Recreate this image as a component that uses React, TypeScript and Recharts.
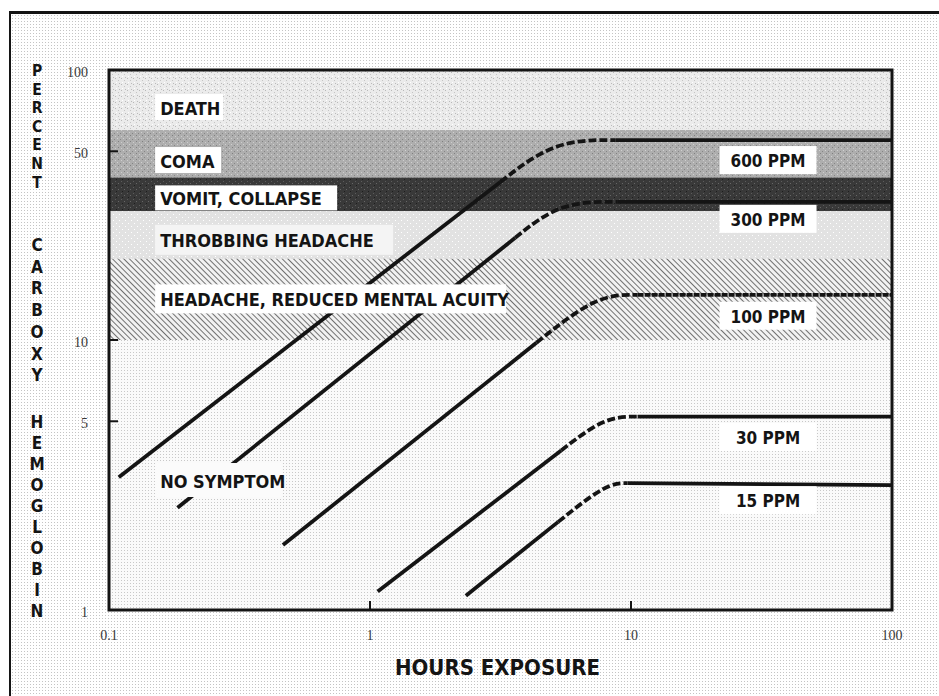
import React from 'react';
import { LineChart, Line, XAxis, YAxis, ReferenceArea, ReferenceDot, Label } from 'recharts';

// hours of exposure vs. percent carboxyhemoglobin
// each line: start of the rise, start of the dashed knee, knee corner, start of plateau, end of plateau
const line600 = [[0.109, 3.1], [3.16, 38.5], [5.09, 55], [8.7, 55], [100, 55]];
const line300 = [[0.183, 2.39], [3.6, 23.9], [5.36, 32.5], [8.9, 32.5], [100, 32.5]];
const line100 = [[0.464, 1.74], [4.34, 9.76], [7.38, 14.7], [10.6, 14.7], [100, 14.7]];
const line30 = [[1.07, 1.17], [5.4, 3.9], [7.95, 5.2], [10.6, 5.2], [100, 5.2]];
const line15 = [[2.33, 1.13], [5.26, 2.12], [8.07, 2.95], [9.7, 2.95], [100, 2.9]];
const ppmNames = ['600 PPM', '300 PPM', '100 PPM', '30 PPM', '15 PPM'];
const ppmLabelAt = [[33.5, 46.4], [33.5, 28.1], [33.5, 12.3], [33.5, 4.37], [33.5, 2.55]];

const bandNames = ['DEATH', 'COMA', 'VOMIT, COLLAPSE', 'THROBBING HEADACHE', 'HEADACHE, REDUCED MENTAL ACUITY', 'NO SYMPTOM'];
const bandEdges = [100, 60, 40, 30, 20, 10, 1];
const bandLabelAt = [72.9, 46.4, 33.6, 23.5, 14.2, 3.03];

const xTicks = [0.1, 1, 10, 100];
const yTicks = [1, 5, 10, 50, 100];
const yTitle = ['PERCENT', 'CARBOXY', 'HEMOGLOBIN'];
const xTitle = 'HOURS EXPOSURE';

const COND = "'Liberation Sans Narrow', 'Arial Narrow', 'DejaVu Sans Condensed', sans-serif";
const SERIF = "'Liberation Serif', 'DejaVu Serif', serif";
const INK = '#141414';

const bandFill = ['url(#death)', 'url(#coma)', 'url(#vomit)', 'url(#throb)', 'url(#hatch)', 'url(#calm)'];
const bandBox = [
  { w: 68, h: 26, fill: '#fff' },
  { w: 66, h: 26, fill: '#fff' },
  { w: 182, h: 25, fill: '#fff' },
  { w: 238, h: 30, fill: '#f4f4f4' },
  { w: 351, h: 29, fill: '#fff' },
  { w: 127, h: 34, fill: '#fbfbfb' },
];
const LABEL_X = 0.157; // hours, just inside the left edge

const toPts = (arr: number[][]) => arr.map(([t, c]) => ({ t, c }));
const lines = [line600, line300, line100, line30, line15];

const boxLabel = (text: string, w: number, h: number, fill: string, anchor: 'start' | 'middle', size: number) =>
  (props: any) => {
    const vb = props.viewBox || {};
    const cx = vb.x + (vb.width || 0) / 2;
    const cy = vb.y + (vb.height || 0) / 2;
    const left = anchor === 'start' ? cx - 5 : cx - w / 2;
    return (
      <g>
        <rect x={left} y={cy - h / 2} width={w} height={h} fill={fill} />
        <text x={cx} y={cy + 1} textAnchor={anchor} dominantBaseline="central"
          fontFamily={COND} fontWeight="bold" fontSize={size} fill={INK}>{text}</text>
      </g>
    );
  };

const YTick = ({ x, y, payload }: any) => (
  <g>
    <line x1={x} x2={x + 9} y1={y} y2={y} stroke={INK} strokeWidth={2} />
    <text x={x - 21} y={y + 2} textAnchor="end" dominantBaseline="central" stroke="none"
      fontFamily={SERIF} fontSize={14} fill="#3a3a3a">{payload.value}</text>
  </g>
);

const XTick = ({ x, y, payload }: any) => (
  <g>
    <line x1={x} x2={x} y1={y} y2={y - 9} stroke={INK} strokeWidth={2} />
    <text x={x} y={y + 25} textAnchor="middle" dominantBaseline="central" stroke="none"
      fontFamily={SERIF} fontSize={14} fill="#3a3a3a">{payload.value}</text>
  </g>
);

// stacked letters down the left side, one word at a time
const YTitle = ({ viewBox }: any) => {
  const top = viewBox.y;
  const starts = [top + 1, top + 175, top + 352];
  const steps = [18.6, 21.7, 21.0];
  const sizes = [15.5, 17, 17];
  return (
    <g>
      {yTitle.map((word, w) =>
        word.split('').map((ch, i) => (
          <text key={`${w}-${i}`} x={37} y={starts[w] + i * steps[w]} textAnchor="middle"
            dominantBaseline="central" fontFamily={COND} fontWeight="bold" fontSize={sizes[w]} fill={INK}>{ch}</text>
        )))}
    </g>
  );
};

const XTitle = ({ viewBox }: any) => (
  <text x={viewBox.x + viewBox.width / 2 - 3} y={viewBox.y + 57} textAnchor="middle" dominantBaseline="central"
    fontFamily={COND} fontWeight="bold" fontSize={22} fill={INK}>{xTitle}</text>
);

export default function App() {
  return (
    <div style={{ position: 'absolute', left: 0, top: 0, width: 939, height: 696, background: '#fff', overflow: 'hidden' }}>
      <div style={{
        position: 'absolute', left: 9, top: 11, right: 0, bottom: 0,
        borderTop: `3px solid ${INK}`, borderLeft: `2px solid ${INK}`,
        backgroundImage: 'radial-gradient(circle, #c4c4c4 0.7px, transparent 0.9px)',
        backgroundSize: '3px 3px',
      }} />
      <div style={{ position: 'absolute', left: 0, top: 0 }}>
        <LineChart width={939} height={696} margin={{ top: 70, left: 108, right: 47, bottom: 85 }}>
          <defs>
            <pattern id="death" width="6" height="6" patternUnits="userSpaceOnUse">
              <rect width="6" height="6" fill="#ebebeb" />
              <rect x="1" y="0" width="1" height="1" fill="#b8b8b8" />
              <rect x="4" y="2" width="1" height="1" fill="#c4c4c4" />
              <rect x="2" y="4" width="1" height="1" fill="#fff" />
              <rect x="5" y="5" width="1" height="1" fill="#bbb" />
            </pattern>
            <pattern id="coma" width="6" height="6" patternUnits="userSpaceOnUse">
              <rect width="6" height="6" fill="#aeaeae" />
              <rect x="0" y="1" width="1" height="1" fill="#858585" />
              <rect x="3" y="0" width="1" height="1" fill="#d0d0d0" />
              <rect x="4" y="3" width="1" height="1" fill="#808080" />
              <rect x="1" y="4" width="1" height="1" fill="#cdcdcd" />
            </pattern>
            <pattern id="vomit" width="6" height="6" patternUnits="userSpaceOnUse">
              <rect width="6" height="6" fill="#393939" />
              <rect x="1" y="1" width="1" height="1" fill="#5c5c5c" />
              <rect x="4" y="3" width="1" height="1" fill="#666" />
              <rect x="2" y="5" width="1" height="1" fill="#1e1e1e" />
            </pattern>
            <pattern id="throb" width="6" height="6" patternUnits="userSpaceOnUse">
              <rect width="6" height="6" fill="#e2e2e2" />
              <rect x="2" y="1" width="1" height="1" fill="#fff" />
              <rect x="5" y="4" width="1" height="1" fill="#fff" />
            </pattern>
            <pattern id="hatch" width="4" height="4" patternUnits="userSpaceOnUse" patternTransform="rotate(-45)">
              <rect width="4" height="4" fill="#f2f2f2" />
              <line x1="0" y1="0" x2="0" y2="4" stroke="#5a5a5a" strokeWidth="1.7" />
            </pattern>
            <pattern id="calm" width="3" height="3" patternUnits="userSpaceOnUse">
              <rect width="3" height="3" fill="#fafafa" />
              <rect x="1" y="1" width="1" height="1" fill="#c8c8c8" />
            </pattern>
          </defs>

          {bandNames.map((name, i) => (
            <ReferenceArea key={name} x1={0.1} x2={100} y1={bandEdges[i + 1]} y2={bandEdges[i]}
              fill={bandFill[i]} fillOpacity={1} stroke="none" />
          ))}

          {lines.map((pts, i) => (
            <Line key={`rise-${i}`} data={toPts(pts.slice(0, 2))} dataKey="c" type="linear"
              stroke={INK} strokeWidth={3.8} dot={false} activeDot={false} isAnimationActive={false} />
          ))}
          {lines.map((pts, i) => (
            <Line key={`knee-${i}`} data={toPts(pts.slice(1, 4))} dataKey="c" type="basis"
              stroke={INK} strokeWidth={3.8} strokeDasharray="8 3" dot={false} activeDot={false} isAnimationActive={false} />
          ))}
          {lines.map((pts, i) => (
            <Line key={`flat-${i}`} data={toPts(pts.slice(3, 5))} dataKey="c" type="linear"
              stroke={INK} strokeWidth={3.8} strokeDasharray={i === 2 ? '6 1' : undefined}
              dot={false} activeDot={false} isAnimationActive={false} />
          ))}

          <ReferenceArea x1={0.1} x2={100} y1={1} y2={100} fill="none" stroke={INK} strokeWidth={3} />

          {bandNames.map((name, i) => (
            <ReferenceDot key={`lbl-${name}`} x={LABEL_X} y={bandLabelAt[i]}
              r={0} fill="none" stroke="none"
              label={boxLabel(name, bandBox[i].w, bandBox[i].h, bandBox[i].fill, 'start', 18)} />
          ))}
          {ppmNames.map((name, i) => (
            <ReferenceDot key={`ppm-${name}`} x={ppmLabelAt[i][0]} y={ppmLabelAt[i][1]}
              r={0} fill="none" stroke="none"
              label={boxLabel(name, 97, 28, '#fff', 'middle', 17)} />
          ))}

          <XAxis type="number" dataKey="t" scale="log" domain={[0.1, 100]} allowDataOverflow
            ticks={xTicks} height={1} tickSize={0} tickMargin={0} axisLine={false} tick={<XTick />}>
            <Label content={XTitle} />
          </XAxis>
          <YAxis type="number" dataKey="c" scale="log" domain={[1, 100]} allowDataOverflow
            ticks={yTicks} width={1} tickSize={0} tickMargin={0} axisLine={false} tick={<YTick />}>
            <Label content={YTitle} />
          </YAxis>
        </LineChart>
      </div>
    </div>
  );
}
